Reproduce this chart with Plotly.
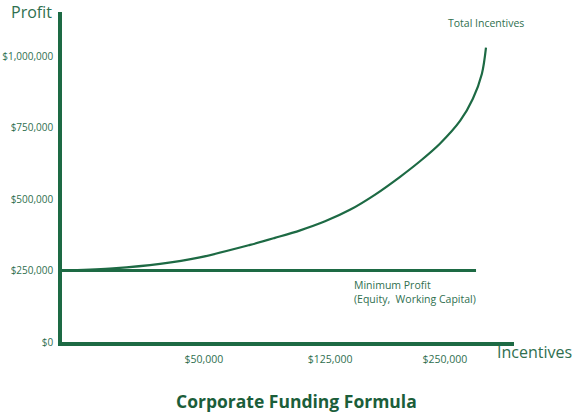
import plotly.graph_objects as go

# Incentive scale position (0-100 along the axis) and profit values
curve_x = [1.8, 11.3, 21.7, 30.5, 41.6, 47.1, 52.7, 58.2, 63.7, 69.2, 74.8, 79.2,
           83.6, 88.1, 90.9, 92.9, 93.8]
curve_profit = [250000, 257350, 273100, 295900, 339600, 364100, 390400, 421900, 462200,
                514700, 577700, 632000, 693300, 773800, 850800, 938400, 1029400]

min_x = [0, 91.6]
min_profit = [250000, 250000]

x_tick_pos = [31.4, 59.3, 84.7]
x_tick_labels = ["$50,000", "$125,000", "$250,000"]
y_tick_vals = [0, 250000, 500000, 750000, 1000000]
y_tick_labels = ["$0", "$250,000", "$500,000", "$750,000", "$1,000,000"]

GREEN = "#1d6a44"
TXT = "#2f6f4f"
FONT = "Open Sans"

fig = go.Figure()
fig.add_trace(go.Scatter(x=min_x, y=min_profit, mode="lines",
                         line=dict(color=GREEN, width=3), hoverinfo="skip"))
fig.add_trace(go.Scatter(x=curve_x, y=curve_profit, mode="lines",
                         line=dict(color=GREEN, width=2.2, shape="spline", smoothing=0.9),
                         hoverinfo="skip"))

fig.update_layout(
    width=574, height=414,
    margin=dict(l=62, r=60, t=12, b=72),
    paper_bgcolor="white", plot_bgcolor="white",
    showlegend=False,
    font=dict(family=FONT, color=TXT),
    xaxis=dict(range=[0, 100], showgrid=False, zeroline=False, showline=True,
               linecolor=GREEN, linewidth=3.5, tickmode="array", tickvals=x_tick_pos,
               ticktext=x_tick_labels, ticks="", tickfont=dict(size=10.5, color=TXT),
               ticklabelstandoff=5, automargin=False, fixedrange=True),
    yaxis=dict(range=[0, 1154000], showgrid=False, zeroline=False, showline=True,
               linecolor=GREEN, linewidth=3.5, tickmode="array", tickvals=y_tick_vals,
               ticktext=y_tick_labels, ticks="", tickfont=dict(size=10, color=TXT),
               ticklabelstandoff=3, automargin=False, fixedrange=True),
    annotations=[
        dict(text="Profit", xref="paper", yref="paper", x=-0.018, y=1.0, xanchor="right",
             yanchor="middle", showarrow=False, font=dict(size=16, color=TXT, family=FONT)),
        dict(text="Incentives", xref="paper", yref="paper", x=1.0 + (-19 / 452), y=-0.03,
             xanchor="left", yanchor="middle", showarrow=False,
             font=dict(size=16, color=TXT, family=FONT)),
        dict(text="Total Incentives", xref="x", yref="paper", x=93.8, y=(342 - 23) / 330,
             xanchor="center", yanchor="middle", showarrow=False,
             font=dict(size=10.5, color=TXT, family=FONT)),
        dict(text="Minimum Profit<br>(Equity,  Working Capital)", xref="x", yref="paper",
             x=(352 - 62) / 452 * 100, y=(342 - 292) / 330, xanchor="left", yanchor="middle",
             align="left", showarrow=False, font=dict(size=10.5, color=TXT, family=FONT)),
        dict(text="<b>Corporate Funding Formula</b>", xref="paper", yref="paper",
             x=(296 - 62) / 452, y=-(401 - 342) / 330, xanchor="center", yanchor="middle",
             showarrow=False, font=dict(size=17.5, color="#1b5e3a", family=FONT)),
    ],
)

fig.write_html("out.html")
